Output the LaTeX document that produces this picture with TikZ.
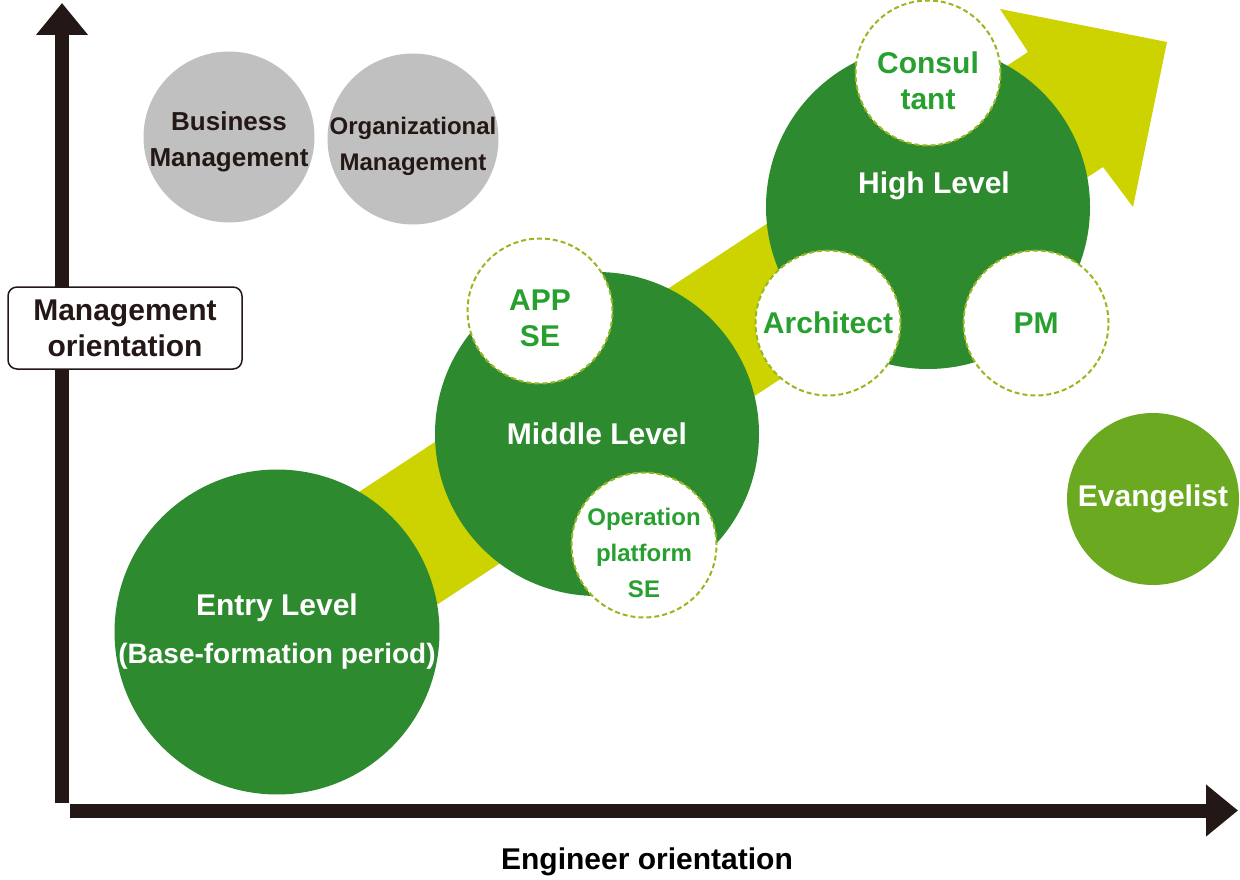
\documentclass[tikz,border=0pt]{standalone}
\usepackage{fontspec}
\setmainfont{Liberation Sans}
\usetikzlibrary{arrows.meta}
\definecolor{axisblack}{RGB}{35,24,21}
\definecolor{arrowyellow}{RGB}{204,211,0}
\definecolor{levelgreen}{RGB}{46,138,46}
\definecolor{evangreen}{RGB}{107,170,32}
\definecolor{rolegreen}{RGB}{40,160,48}
\definecolor{dashgreen}{RGB}{150,184,30}
\definecolor{mgmtgray}{RGB}{192,192,192}
\tikzset{
  axis/.style={line width=14pt,draw=axisblack,-{Triangle[width=50pt,length=32pt]}},
  level/.style={circle,fill=levelgreen,minimum size=324pt,inner sep=0pt,text=white,align=center},
  role/.style n args={3}{circle,fill=white,draw=dashgreen,line width=2pt,dash pattern=on 5pt off 3pt,
    minimum size=145pt,inner sep=0pt,
    label={[roletext,yshift=#2,font=\bfseries\fontsize{#3}{36}\selectfont]center:{#1}}},
  roletext/.style={text=rolegreen,align=center,inner sep=0pt},
  mgmt/.style n args={3}{circle,fill=mgmtgray,minimum size=171pt,inner sep=0pt,
    label={[mgmttext,yshift=#2,font=\bfseries\fontsize{#3}{36}\selectfont]center:{#1}}},
  mgmttext/.style={text=axisblack,align=center,inner sep=0pt}
}

\begin{document}
\begin{tikzpicture}[x=1pt,y=-1pt,font=\bfseries\fontsize{30}{36}\selectfont]
		\useasboundingbox (0,0) rectangle (1240,880);
		% Career path
		\fill[arrowyellow] (292,536) -- (1028,52) -- (1000,9) -- (1167,42) -- (1133,207) -- (1103,167) -- (368,650) -- cycle;
		
		\coordinate (ytop) at (62,3);
		\coordinate (ybot) at (62,803);
		\coordinate (xleft) at (70,810.5);
		\coordinate (xright) at (1238,810.5);
		\draw[axis] (ybot) to (ytop);
		\draw[axis] (xleft) to (xright);
		\node (xlabel) at (647,862) {Engineer orientation};
		\node[draw=axisblack,line width=1.5pt,fill=white,rounded corners=9pt,minimum width=234pt,minimum height=82pt,align=center,text=axisblack] (ylabel) at (125,328) {Management\\orientation};
		
		\node[mgmt={Business\\Management}{-5pt}{26}] (Business) at (229,137) {};
		\node[mgmt={Organizational\\Management}{-7pt}{24}] (Organizational) at (413,139) {};
		
		\node[level] (Entry) at (277,632) {Entry Level\\[12pt]\fontsize{28}{34}\selectfont(Base-formation period)};
		\node[level] (Middle) at (597,434) {Middle Level};
		\node[level] (High) at (928,207) {};
		\node[text=white] (HighText) at (934,186) {High Level};
		\node[level,fill=evangreen,minimum size=172pt] (Evangelist) at (1153,499) {Evangelist};
		
		\node[role={APP\\SE}{-7pt}{30}] (AppSE) at (540,311) {};
		\node[role={Operation\\platform\\SE}{-8pt}{24}] (OpSE) at (644,545) {};
		\node[role={Consul\\tant}{-8pt}{30}] (Consultant) at (928,73) {};
		\node[role={Architect}{0pt}{30}] (Architect) at (828,323) {};
		\node[role={PM}{0pt}{30}] (PM) at (1036,323) {};
		
		\end{tikzpicture}
\end{document}
